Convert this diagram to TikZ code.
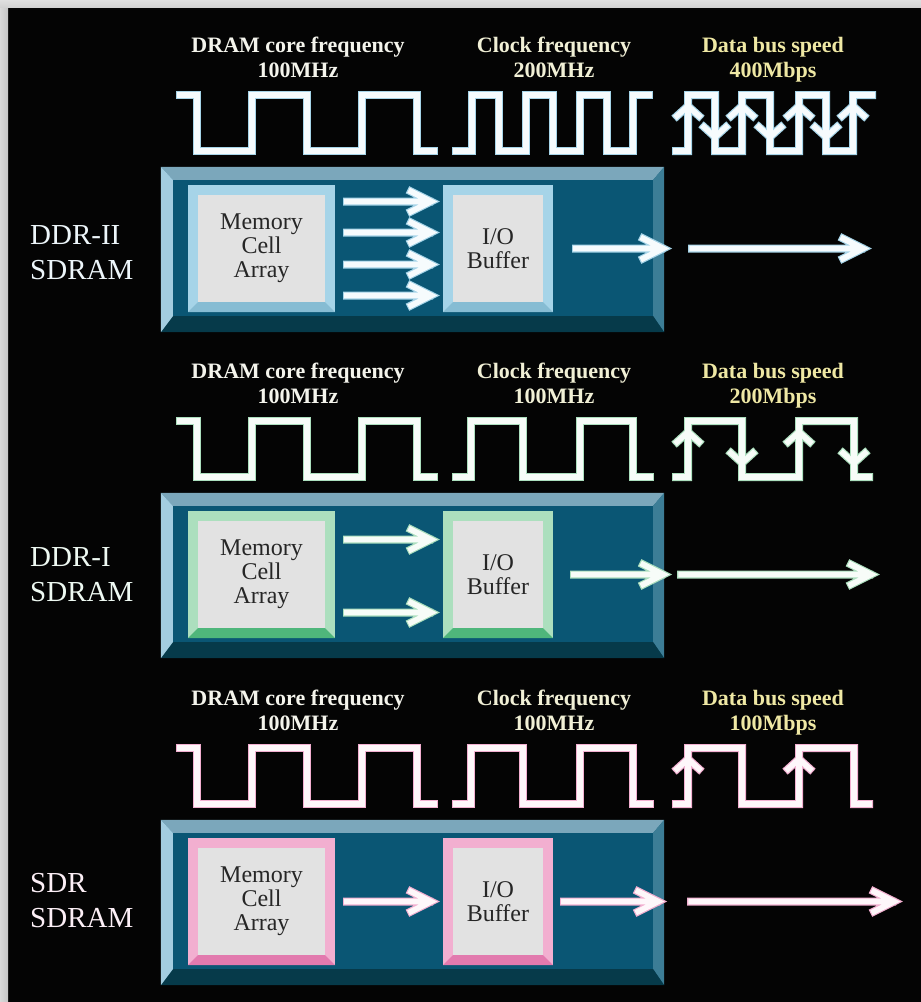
\documentclass[tikz,border=0pt]{standalone}
\usepackage{fontspec}
\setmainfont{Liberation Serif}
\usetikzlibrary{calc}

\definecolor{panel}{HTML}{040404}
\definecolor{face}{HTML}{0A5674}
\definecolor{bevtop}{HTML}{7BA7BB}
\definecolor{bevleft}{HTML}{A3CDE0}
\definecolor{bevright}{HTML}{3C7D96}
\definecolor{bevbot}{HTML}{063A4A}
\definecolor{cellgray}{HTML}{E2E2E2}
\definecolor{blueA}{HTML}{A6D4E8}
\definecolor{blueB}{HTML}{86BCD3}
\definecolor{greenA}{HTML}{ACDFBE}
\definecolor{greenB}{HTML}{4FB67B}
\definecolor{pinkA}{HTML}{F2AFD0}
\definecolor{pinkB}{HTML}{E27AAE}
\definecolor{titleA}{HTML}{F4F4EC}
\definecolor{titleB}{HTML}{F1F0D6}
\definecolor{titleC}{HTML}{EFE8A4}

\begin{document}
\begin{tikzpicture}[x=1pt, y=-1pt]
  \tikzset{
    wave/.style={draw=#1, double=#1!10!white, double distance=5.6pt,
      line width=1.2pt, line join=miter, line cap=rect},
    tipR/.style={insert path={++(-18,-10) -- ++(20,10) -- ++(-20,10)}},
    tipU/.style={insert path={++(-11,10) -- ++(11,-10) -- ++(11,10)}},
    tipD/.style={insert path={++(-11,-10) -- ++(11,10) -- ++(11,-10)}},
    cell/.style={draw=#1, line width=10pt, fill=cellgray, inner sep=0pt,
      minimum height=117pt, align=center, text=black!85,
      font=\fontsize{24}{24}\selectfont}
  }
  \tikzstyle{title}=[inner sep=0pt, anchor=north, align=center,
    font=\fontsize{22}{25}\selectfont\bfseries]
  \tikzstyle{kind}=[inner sep=0pt, anchor=west, align=left,
    font=\fontsize{29}{35}\selectfont]
  \tikzstyle{chip}=[fill=face, inner sep=0pt, minimum width=503pt,
    minimum height=165pt]

  \useasboundingbox (0,0) rectangle (921,1002);
  \fill[panel] (0,0) rectangle (921,1002);
  \shade[left color=gray!30, right color=gray!45] (0,0) rectangle (8,1002);
  \shade[top color=gray!25, bottom color=gray!35] (0,0) rectangle (921,7);

  % chip bodies with bevelled rims
  \foreach \t/\n in {167/1, 493/2, 820/3} {
    \node[chip] (chip\n) at (412.5,\t+82.5) {};
    \coordinate (a) at ($(chip\n.north west)+(12,13)$);
    \coordinate (b) at ($(chip\n.north east)+(-11,13)$);
    \coordinate (c) at ($(chip\n.south east)+(-11,-16)$);
    \coordinate (d) at ($(chip\n.south west)+(12,-16)$);
    \fill[bevtop] (chip\n.north west) -- (chip\n.north east) -- (b) -- (a) -- cycle;
    \fill[bevright] (chip\n.north east) -- (chip\n.south east) -- (c) -- (b) -- cycle;
    \fill[bevbot] (chip\n.south east) -- (chip\n.south west) -- (d) -- (c) -- cycle;
    \fill[bevleft] (chip\n.south west) -- (chip\n.north west) -- (a) -- (d) -- cycle;
  }

  % DDR-II
  \node[title, text=titleA] (core1) at (298,37) {DRAM core frequency\\100MHz};
  \node[title, text=titleB] (clock1) at (554,37) {Clock frequency\\200MHz};
  \node[title, text=titleC] (speed1) at (773,37) {Data bus speed\\400Mbps};
  \draw[wave=blueA] (180,95) -| (197,151) -| (252,95) -| (307,151) -| (362,95) -| (417,151) -- (434,151);
  \draw[wave=blueA] (456,151) -| (472,95) -| (499,151) -| (526,95) -| (553,151) -| (580,95) -| (607,151) -| (633,95) -- (649,95);
  \draw[wave=blueA] (676,151) -| (688,95) -| (715,151) -| (742,95) -| (770,151) -| (799,95) -| (826,151) -| (853,95) -- (872,95)
    (688,106) [tipU] (742,106) [tipU] (799,106) [tipU] (853,106) [tipU]
    (715,137) [tipD] (770,137) [tipD] (826,137) [tipD];
  \node[kind, text=blueA!20!white] (ddr2) at (30,253) {DDR-II\\SDRAM};
  \node[cell=blueA, minimum width=137pt] (mem1) at (261.5,248.5) {Memory\\Cell\\Array};
  \node[cell=blueA, minimum width=100pt] (io1) at (498,248.5) {I/O\\Buffer};
  \fill[blueB] (mem1.south west) -- (mem1.south east) -- ++(-10,-10) -- ($(mem1.south west)+(10,-10)$) -- cycle;
  \fill[blueB] (io1.south west) -- (io1.south east) -- ++(-10,-10) -- ($(io1.south west)+(10,-10)$) -- cycle;
  \coordinate (out1) at (863,248.5);
  \foreach \dy in {-47,-16,16,47}
    \draw[wave=blueA] ($(mem1.east)+(12,\dy)$) -- ($(io1.west)+(-14,\dy)$) [tipR];
  \draw[wave=blueA] ($(io1.east)+(23,0)$) -- ($(chip1.east |- io1.east)+(-3,0)$) [tipR];
  \draw[wave=blueA] ($(chip1.east |- io1.east)+(28,0)$) -- ($(out1)+(-2,0)$) [tipR];

  % DDR-I
  \node[title, text=titleA] (core2) at (298,363) {DRAM core frequency\\100MHz};
  \node[title, text=titleB] (clock2) at (554,363) {Clock frequency\\100MHz};
  \node[title, text=titleC] (speed2) at (773,363) {Data bus speed\\200Mbps};
  \draw[wave=greenA] (180,421) -| (197,477) -| (252,421) -| (307,477) -| (362,421) -| (417,477) -- (434,477);
  \draw[wave=greenA] (456,477) -| (471,421) -| (523,477) -| (580,421) -| (633,477) -- (650,477);
  \draw[wave=greenA] (676,477) -| (688,421) -| (742,477) -| (799,421) -| (854,477) -- (869,477)
    (688,432) [tipU] (799,432) [tipU]
    (742,463) [tipD] (854,463) [tipD];
  \node[kind, text=greenA!20!white] (ddr1) at (30,575) {DDR-I\\SDRAM};
  \node[cell=greenA, minimum width=137pt] (mem2) at (261.5,574.5) {Memory\\Cell\\Array};
  \node[cell=greenA, minimum width=100pt] (io2) at (498,574.5) {I/O\\Buffer};
  \fill[greenB] (mem2.south west) -- (mem2.south east) -- ++(-10,-10) -- ($(mem2.south west)+(10,-10)$) -- cycle;
  \fill[greenB] (io2.south west) -- (io2.south east) -- ++(-10,-10) -- ($(io2.south west)+(10,-10)$) -- cycle;
  \coordinate (out2) at (871,574.5);
  \foreach \dy in {-35,38}
    \draw[wave=greenA] ($(mem2.east)+(12,\dy)$) -- ($(io2.west)+(-14,\dy)$) [tipR];
  \draw[wave=greenA] ($(io2.east)+(21,0)$) -- ($(chip2.east |- io2.east)+(-3,0)$) [tipR];
  \draw[wave=greenA] ($(chip2.east |- io2.east)+(17,0)$) -- ($(out2)+(-2,0)$) [tipR];

  % SDR
  \node[title, text=titleA] (core3) at (298,690) {DRAM core frequency\\100MHz};
  \node[title, text=titleB] (clock3) at (554,690) {Clock frequency\\100MHz};
  \node[title, text=titleC] (speed3) at (773,690) {Data bus speed\\100Mbps};
  \draw[wave=pinkA] (180,748) -| (197,804) -| (252,748) -| (307,804) -| (362,748) -| (417,804) -- (434,804);
  \draw[wave=pinkA] (456,804) -| (471,748) -| (523,804) -| (580,748) -| (633,804) -- (650,804);
  \draw[wave=pinkA] (676,804) -| (688,748) -| (742,804) -| (799,748) -| (854,804) -- (869,804)
    (688,759) [tipU] (799,759) [tipU];
  \node[kind, text=pinkA!20!white] (sdr) at (30,901) {SDR\\SDRAM};
  \node[cell=pinkA, minimum width=137pt] (mem3) at (261.5,901.5) {Memory\\Cell\\Array};
  \node[cell=pinkA, minimum width=100pt] (io3) at (498,901.5) {I/O\\Buffer};
  \fill[pinkB] (mem3.south west) -- (mem3.south east) -- ++(-10,-10) -- ($(mem3.south west)+(10,-10)$) -- cycle;
  \fill[pinkB] (io3.south west) -- (io3.south east) -- ++(-10,-10) -- ($(io3.south west)+(10,-10)$) -- cycle;
  \coordinate (out3) at (894,901.5);
  \draw[wave=pinkA] ($(mem3.east)+(12,0)$) -- ($(io3.west)+(-14,0)$) [tipR];
  \draw[wave=pinkA] ($(io3.east)+(11,0)$) -- ($(chip3.east |- io3.east)+(-8,0)$) [tipR];
  \draw[wave=pinkA] ($(chip3.east |- io3.east)+(27,0)$) -- ($(out3)+(-2,0)$) [tipR];
\end{tikzpicture}
\end{document}
